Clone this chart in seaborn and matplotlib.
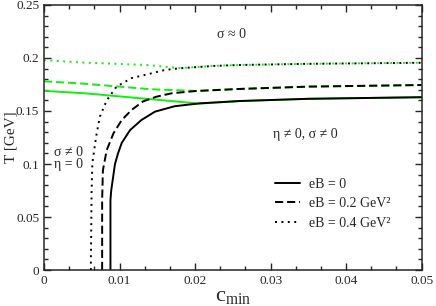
import matplotlib
matplotlib.use("Agg")
import matplotlib.pyplot as plt
import seaborn as sns
import pandas as pd
from matplotlib.ticker import AutoMinorLocator

# ---------------- data ----------------
# black boundaries (eta != 0 region), ordered along the curve
c_eb0 = [0.0088, 0.0088, 0.0089, 0.0091, 0.0094, 0.0098, 0.0103, 0.0114, 0.0129, 0.0147, 0.0173, 0.0206, 0.0259, 0.0350, 0.0500]
T_eb0 = [0.000, 0.066, 0.075, 0.085, 0.100, 0.110, 0.120, 0.132, 0.1415, 0.1494, 0.1545, 0.1572, 0.1594, 0.1615, 0.1630]

c_eb02 = [0.0077, 0.0077, 0.0078, 0.0083, 0.0092, 0.0103, 0.0116, 0.0131, 0.0149, 0.0169, 0.0202, 0.0259, 0.0350, 0.0500]
T_eb02 = [0.000, 0.066, 0.094, 0.113, 0.129, 0.1415, 0.151, 0.159, 0.1635, 0.1667, 0.1689, 0.1708, 0.1730, 0.1745]

c_eb04 = [0.0062, 0.0063, 0.0064, 0.0069, 0.0074, 0.0083, 0.0096, 0.0116, 0.0142, 0.0160, 0.0180, 0.0224, 0.0259, 0.0350, 0.0500]
T_eb04 = [0.000, 0.073, 0.1006, 0.1258, 0.1447, 0.160, 0.173, 0.181, 0.1855, 0.1887, 0.1903, 0.1925, 0.1934, 0.1945, 0.1955]

# green boundaries (sigma ~ 0 region)
c_g0 = [0.0, 0.0054, 0.0206, 0.0259, 0.0350, 0.0500]
T_g0 = [0.169, 0.1667, 0.1570, 0.1594, 0.1615, 0.1630]

c_g02 = [0.0, 0.0054, 0.0142, 0.0202, 0.0259, 0.0350, 0.0500]
T_g02 = [0.178, 0.1757, 0.1705, 0.1689, 0.1708, 0.1730, 0.1745]

c_g04 = [0.0, 0.0054, 0.0136, 0.0180, 0.0224, 0.0259, 0.0350, 0.0500]
T_g04 = [0.198, 0.1956, 0.1934, 0.1905, 0.1925, 0.1934, 0.1945, 0.1955]

legend_labels = ["eB = 0", "eB = 0.2 GeV\u00b2", "eB = 0.4 GeV\u00b2"]
x_ticks = [0, 0.01, 0.02, 0.03, 0.04, 0.05]
x_tick_labels = ["0", "0.01", "0.02", "0.03", "0.04", "0.05"]
y_ticks = [0, 0.05, 0.10, 0.15, 0.20, 0.25]
y_tick_labels = ["0", "0.05", "0.1", "0.15", "0.2", "0.25"]

# ---------------- style ----------------
sns.set_style("ticks")
plt.rcParams['font.family'] = ['Liberation Serif', 'DejaVu Serif']
plt.rcParams['mathtext.fontset'] = 'custom'
plt.rcParams['mathtext.rm'] = 'Liberation Serif'
plt.rcParams['mathtext.it'] = 'Liberation Serif:italic'

fig = plt.figure(figsize=(4.36, 3.06), dpi=100)
ax = fig.add_axes([0.1009, 0.1176, 0.8661, 0.8661])

GREEN = '#11ee11'
lw = 1.4
dash = (0, (4.2, 2.0))
dot = (0, (1.0, 2.3))

def draw(c, T, color, ls, label=None):
    df = pd.DataFrame({'c': c, 'T': T})
    sns.lineplot(data=df, x='c', y='T', ax=ax, color=color, linestyle=ls,
                 linewidth=lw, sort=False, estimator=None, label=label, legend=False)

draw(c_g0, T_g0, GREEN, '-')
draw(c_g02, T_g02, GREEN, dash)
draw(c_g04, T_g04, GREEN, dot)
draw(c_eb0, T_eb0, 'black', '-', legend_labels[0])
draw(c_eb02, T_eb02, 'black', dash, legend_labels[1])
draw(c_eb04, T_eb04, 'black', dot, legend_labels[2])

ax.set_xlim(0, 0.05)
ax.set_ylim(0, 0.25)
ax.set_xticks(x_ticks, labels=x_tick_labels)
ax.set_yticks(y_ticks, labels=y_tick_labels)
ax.xaxis.set_minor_locator(AutoMinorLocator(3))
ax.yaxis.set_minor_locator(AutoMinorLocator(5))
ax.tick_params(which='both', direction='in', top=True, right=True, labelsize=9.5, width=1.0)
ax.tick_params(which='major', length=5)
ax.tick_params(which='minor', length=3)
for s in ax.spines.values():
    s.set_linewidth(1.1)

ax.set_xlabel(r'$\mathregular{c_{min}}$', fontsize=16, labelpad=0)
ax.set_ylabel('T [GeV]', fontsize=11)
ax.yaxis.set_label_coords(-0.071, 0.5)

ax.text(0.0229, 0.2217, 'σ ≈ 0', fontsize=10, ha='left', va='center')
ax.text(0.0303, 0.1274, 'η ≠ 0, σ ≠ 0', fontsize=10, ha='left', va='center')
ax.text(0.0013, 0.1113, 'σ ≠ 0', fontsize=10, ha='left', va='center')
ax.text(0.0013, 0.0995, 'η = 0', fontsize=10, ha='left', va='center')

h, l = ax.get_legend_handles_labels()
ax.legend(h[-3:], l[-3:], loc='upper left', bbox_to_anchor=(0.611, 0.347), frameon=False,
          fontsize=10, handlelength=1.8, handletextpad=0.7, labelspacing=0.45,
          borderpad=0, borderaxespad=0)

fig.savefig('out.png', dpi=100)
